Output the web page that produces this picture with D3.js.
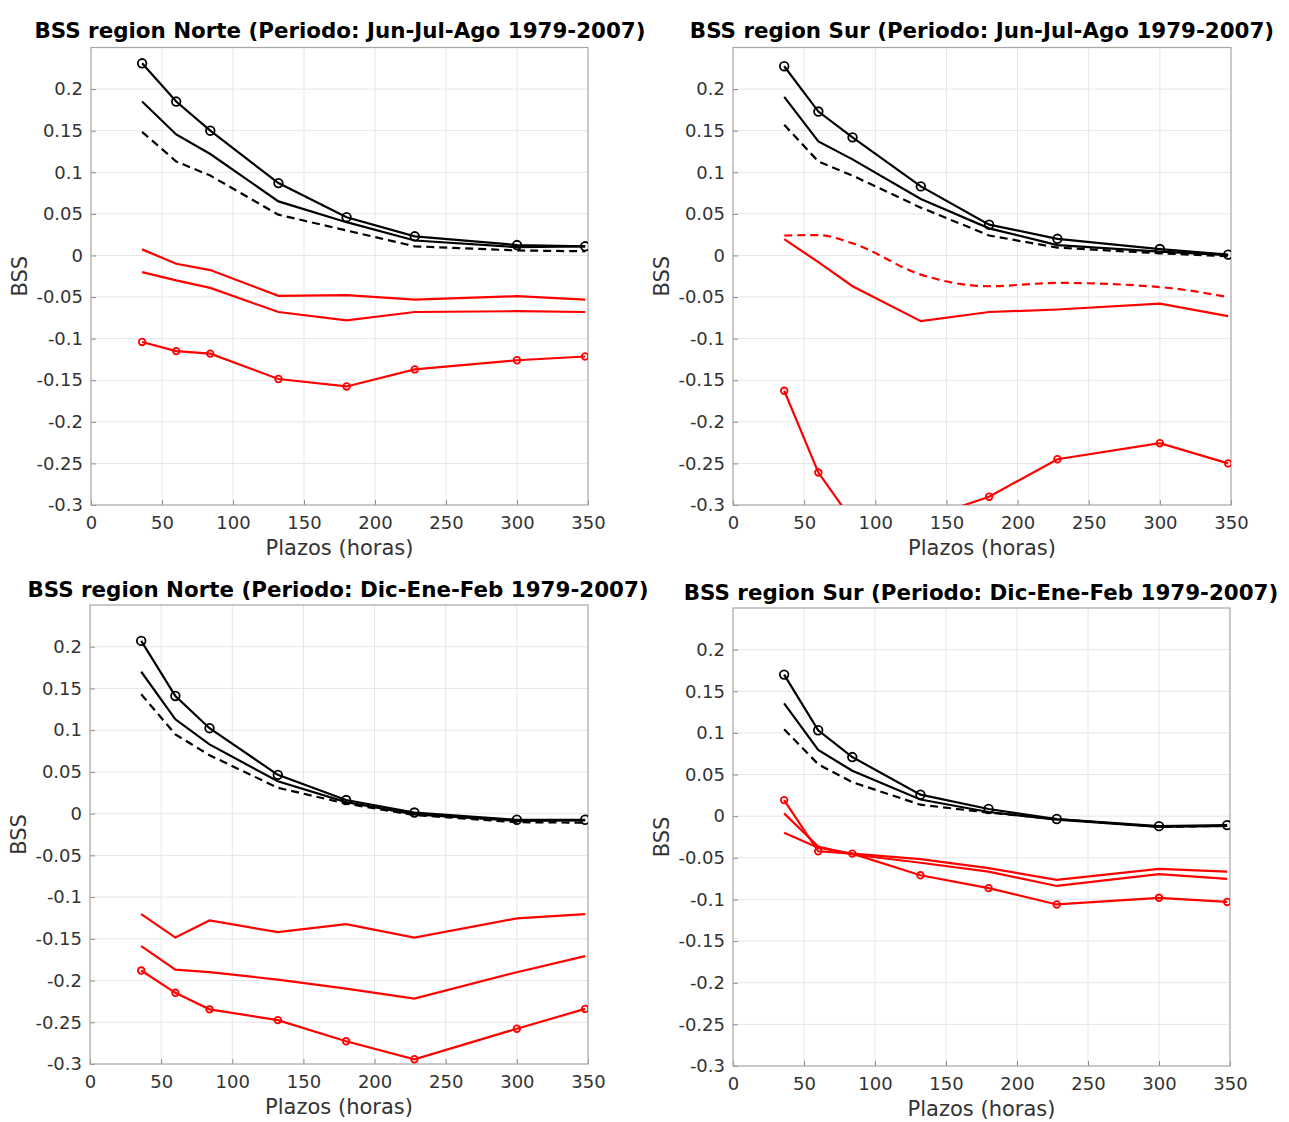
<!DOCTYPE html>
<html>
<head>
<meta charset="utf-8">
<script src="https://cdn.jsdelivr.net/npm/d3@7"></script>
<style>
  body { margin: 0; background: #fff; }
  svg { font-family: "DejaVu Sans", sans-serif; }
</style>
</head>
<body>
<div id="chart"></div>
<script>
// lead times (hours)
var plazos = [36, 60, 84, 132, 180, 228, 300, 348];
var xTicks = [0, 50, 100, 150, 200, 250, 300, 350];
var yTicks = [-0.3, -0.25, -0.2, -0.15, -0.1, -0.05, 0, 0.05, 0.1, 0.15, 0.2];

// Norte, Jun-Jul-Ago
var norteJJA_blackCirc = [0.231, 0.185, 0.150, 0.087, 0.046, 0.023, 0.0125, 0.011];
var norteJJA_blackSol  = [0.185, 0.1455, 0.122, 0.065, 0.040, 0.018, 0.010, 0.011];
var norteJJA_blackDash = [0.1485, 0.113, 0.096, 0.049, 0.030, 0.011, 0.006, 0.005];
var norteJJA_redSolA   = [0.0073, -0.010, -0.0176, -0.0485, -0.0476, -0.053, -0.049, -0.053];
var norteJJA_redSolB   = [-0.020, -0.030, -0.039, -0.068, -0.078, -0.068, -0.067, -0.068];
var norteJJA_redCirc   = [-0.104, -0.115, -0.118, -0.1485, -0.1575, -0.137, -0.126, -0.1215];

// Sur, Jun-Jul-Ago
var surJJA_blackCirc = [0.2275, 0.173, 0.142, 0.083, 0.037, 0.020, 0.0077, 0.001];
var surJJA_blackSol  = [0.1906, 0.137, 0.1155, 0.068, 0.0326, 0.0124, 0.0047, 0.0004];
var surJJA_blackDash = [0.157, 0.113, 0.096, 0.0575, 0.024, 0.0094, 0.0026, -0.001];
var surJJA_redDash   = [0.024, 0.0245, 0.0146, -0.023, -0.037, -0.033, -0.038, -0.050];
var surJJA_redSol    = [0.0197, -0.008, -0.037, -0.079, -0.068, -0.065, -0.058, -0.073];
var surJJA_redCirc   = [-0.1627, -0.261, -0.319, -0.318, -0.290, -0.245, -0.2257, -0.250];

// Norte, Dic-Ene-Feb
var norteDEF_blackCirc = [0.207, 0.141, 0.1024, 0.0465, 0.0163, 0.0013, -0.0073, -0.0073];
var norteDEF_blackSol  = [0.170, 0.113, 0.083, 0.0387, 0.0138, -0.0009, -0.0086, -0.008];
var norteDEF_blackDash = [0.143, 0.095, 0.070, 0.031, 0.012, -0.0017, -0.0103, -0.0108];
var norteDEF_redSolA   = [-0.1205, -0.1485, -0.128, -0.142, -0.1325, -0.1485, -0.1256, -0.1205];
var norteDEF_redSolB   = [-0.1588, -0.187, -0.190, -0.1988, -0.2096, -0.2216, -0.190, -0.1708];
var norteDEF_redCirc   = [-0.188, -0.2147, -0.2345, -0.2474, -0.2728, -0.2943, -0.2577, -0.234];

// Sur, Dic-Ene-Feb
var surDEF_blackCirc = [0.170, 0.1032, 0.071, 0.0258, 0.0086, -0.0034, -0.012, -0.0107];
var surDEF_blackSol  = [0.1354, 0.0795, 0.0546, 0.020, 0.005, -0.0043, -0.0129, -0.0116];
var surDEF_blackDash = [0.1045, 0.0624, 0.0408, 0.0138, 0.0043, -0.0034, -0.0129, -0.0116];
var surDEF_redSolA   = [0.0034, -0.0365, -0.046, -0.0559, -0.0666, -0.0838, -0.0697, -0.0752];
var surDEF_redSolB   = [-0.020, -0.0378, -0.045, -0.0516, -0.0623, -0.0765, -0.0632, -0.0666];
var surDEF_redCirc   = [0.0193, -0.0421, -0.045, -0.071, -0.0864, -0.106, -0.098, -0.103];

var titles = [
    "BSS region Norte (Periodo: Jun-Jul-Ago 1979-2007)",
    "BSS region Sur (Periodo: Jun-Jul-Ago 1979-2007)",
    "BSS region Norte (Periodo: Dic-Ene-Feb 1979-2007)",
    "BSS region Sur (Periodo: Dic-Ene-Feb 1979-2007)"
];

var RED = "#ff0000", BLACK = "#000000";

var panels = [
    { title: titles[0], box: [91, 588, 47.5, 505], tx: 340, ty: 38, series: [
        { v: norteJJA_redSolA, c: RED }, { v: norteJJA_redSolB, c: RED },
        { v: norteJJA_redCirc, c: RED, m: 3.3 },
        { v: norteJJA_blackDash, c: BLACK, dash: true }, { v: norteJJA_blackSol, c: BLACK },
        { v: norteJJA_blackCirc, c: BLACK, m: 4.3 } ] },
    { title: titles[1], box: [733, 1231, 47.5, 505], tx: 982, ty: 38, series: [
        { v: surJJA_redDash, c: RED, dash: true, smooth: true }, { v: surJJA_redSol, c: RED },
        { v: surJJA_redCirc, c: RED, m: 3.3 },
        { v: surJJA_blackDash, c: BLACK, dash: true }, { v: surJJA_blackSol, c: BLACK },
        { v: surJJA_blackCirc, c: BLACK, m: 4.3 } ] },
    { title: titles[2], box: [90, 588, 605, 1064], tx: 338, ty: 597, series: [
        { v: norteDEF_redSolA, c: RED }, { v: norteDEF_redSolB, c: RED },
        { v: norteDEF_redCirc, c: RED, m: 3.3 },
        { v: norteDEF_blackDash, c: BLACK, dash: true }, { v: norteDEF_blackSol, c: BLACK },
        { v: norteDEF_blackCirc, c: BLACK, m: 4.3 } ] },
    { title: titles[3], box: [733, 1230, 608, 1066], tx: 981, ty: 600, series: [
        { v: surDEF_redSolA, c: RED }, { v: surDEF_redSolB, c: RED },
        { v: surDEF_redCirc, c: RED, m: 3.3 },
        { v: surDEF_blackDash, c: BLACK, dash: true }, { v: surDEF_blackSol, c: BLACK },
        { v: surDEF_blackCirc, c: BLACK, m: 4.3 } ] }
];

var svg = d3.select("#chart").append("svg")
    .attr("width", 1289)
    .attr("height", 1122);

panels.forEach(function (p, i) {
    var x0 = p.box[0], x1 = p.box[1], yT = p.box[2], yB = p.box[3];
    var x = d3.scaleLinear().domain([0, 350]).range([x0, x1]);
    var y = d3.scaleLinear().domain([-0.3, 0.25]).range([yB, yT]);

    var g = svg.append("g");

    // grid
    g.selectAll("line.gx").data(xTicks.slice(1, -1)).enter().append("line")
        .attr("x1", function (d) { return x(d); }).attr("x2", function (d) { return x(d); })
        .attr("y1", yT).attr("y2", yB)
        .attr("stroke", "#e6e6e6").attr("stroke-width", 1);
    g.selectAll("line.gy").data(yTicks.slice(1)).enter().append("line")
        .attr("y1", function (d) { return y(d); }).attr("y2", function (d) { return y(d); })
        .attr("x1", x0).attr("x2", x1)
        .attr("stroke", "#e6e6e6").attr("stroke-width", 1);

    // axes (MATLAB-like, ticks inside)
    var xAxis = d3.axisBottom(x).tickValues(xTicks).tickSizeInner(-5).tickSizeOuter(0)
        .tickPadding(11).tickFormat(d3.format("d"));
    var yAxis = d3.axisLeft(y).tickValues(yTicks).tickSizeInner(-5).tickSizeOuter(0)
        .tickPadding(8).tickFormat(function (d) { return String(+d.toFixed(2)); });

    var ax = g.append("g").attr("transform", "translate(0," + yB + ")").call(xAxis);
    var ay = g.append("g").attr("transform", "translate(" + x0 + ",0)").call(yAxis);
    [ax, ay].forEach(function (a) {
        a.select(".domain").remove();
        a.selectAll(".tick line").attr("stroke", "#8c8c8c");
        a.selectAll("text").attr("fill", "#333").style("font-size", "18px")
            .style("font-family", "DejaVu Sans");
    });

    // box
    g.append("rect").attr("x", x0).attr("y", yT)
        .attr("width", x1 - x0).attr("height", yB - yT)
        .attr("fill", "none").attr("stroke", "#a6a6a6").attr("stroke-width", 1.2);

    // clip
    var clipId = "clip" + i;
    svg.append("clipPath").attr("id", clipId).append("rect")
        .attr("x", x0).attr("y", yT).attr("width", x1 - x0).attr("height", yB - yT);

    var plot = g.append("g").attr("clip-path", "url(#" + clipId + ")");

    p.series.forEach(function (s) {
        var pts = plazos.map(function (h, k) { return [h, s.v[k]]; });
        var line = d3.line()
            .x(function (d) { return x(d[0]); })
            .y(function (d) { return y(d[1]); })
            .curve(s.smooth ? d3.curveMonotoneX : d3.curveLinear);
        plot.append("path").datum(pts)
            .attr("d", line)
            .attr("fill", "none")
            .attr("stroke", s.c)
            .attr("stroke-width", 2.2)
            .attr("stroke-dasharray", s.dash ? "8,5" : null);
        if (s.m) {
            plot.selectAll(null).data(pts).enter().append("circle")
                .attr("cx", function (d) { return x(d[0]); })
                .attr("cy", function (d) { return y(d[1]); })
                .attr("r", s.m)
                .attr("fill", "none")
                .attr("stroke", s.c)
                .attr("stroke-width", 1.8);
        }
    });

    // title
    svg.append("text").attr("x", p.tx).attr("y", p.ty)
        .attr("text-anchor", "middle")
        .style("font-size", "21.4px").style("font-weight", "bold")
        .attr("fill", "#000")
        .text(p.title);

    // axis labels
    svg.append("text").attr("x", (x0 + x1) / 2).attr("y", yB + 50)
        .attr("text-anchor", "middle").style("font-size", "21px")
        .attr("fill", "#333").text("Plazos (horas)");
    svg.append("text")
        .attr("transform", "translate(" + (x0 - 64) + "," + ((yT + yB) / 2) + ") rotate(-90)")
        .attr("text-anchor", "middle").style("font-size", "21px")
        .attr("fill", "#333").text("BSS");
});
</script>
</body>
</html>
